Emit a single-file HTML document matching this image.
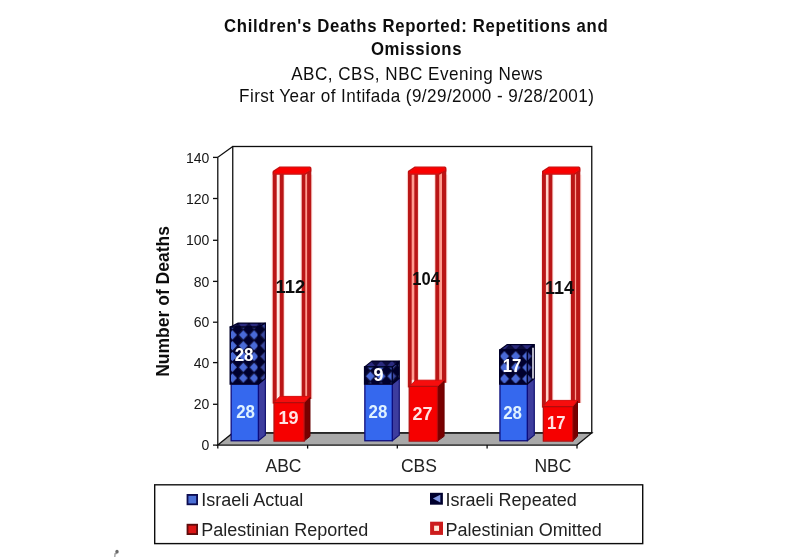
<!DOCTYPE html>
<html><head><meta charset="utf-8"><title>Children's Deaths Reported</title>
<style>
html,body{margin:0;padding:0;background:#fff;}
body{width:800px;height:557px;overflow:hidden;}
svg{display:block;}
text{font-family:"Liberation Sans",sans-serif;}
</style></head><body>
<svg width="800" height="557" viewBox="0 0 800 557">
<defs>
<pattern id="chk0" x="237.9" y="329.5" width="10.8" height="10.8" patternUnits="userSpaceOnUse">
<rect width="10.8" height="10.8" fill="#06062e"/>
<polygon points="5.4,0.7 9.80,5.4 5.4,10.10 1,5.4" fill="#4a6ad8"/>
</pattern>
<pattern id="chkS0" x="237.9" y="329.5" width="10.8" height="10.8" patternUnits="userSpaceOnUse">
<rect width="10.8" height="10.8" fill="#05052a"/>
<polygon points="5.4,0.7 9.80,5.4 5.4,10.10 1,5.4" fill="#3a48a0"/>
</pattern>
<pattern id="chkT0" x="237.9" y="329.5" width="10.8" height="10.8" patternUnits="userSpaceOnUse">
<rect width="10.8" height="10.8" fill="#07073a"/>
<polygon points="5.4,0.7 9.80,5.4 5.4,10.10 1,5.4" fill="#2c2c80"/>
</pattern>
<pattern id="chk1" x="364.9" y="370.8" width="10.8" height="10.8" patternUnits="userSpaceOnUse">
<rect width="10.8" height="10.8" fill="#06062e"/>
<polygon points="5.4,0.7 9.80,5.4 5.4,10.10 1,5.4" fill="#4a6ad8"/>
</pattern>
<pattern id="chkS1" x="364.9" y="370.8" width="10.8" height="10.8" patternUnits="userSpaceOnUse">
<rect width="10.8" height="10.8" fill="#05052a"/>
<polygon points="5.4,0.7 9.80,5.4 5.4,10.10 1,5.4" fill="#3a48a0"/>
</pattern>
<pattern id="chkT1" x="364.9" y="370.8" width="10.8" height="10.8" patternUnits="userSpaceOnUse">
<rect width="10.8" height="10.8" fill="#07073a"/>
<polygon points="5.4,0.7 9.80,5.4 5.4,10.10 1,5.4" fill="#2c2c80"/>
</pattern>
<pattern id="chk2" x="498.75" y="350.55" width="11.3" height="11.3" patternUnits="userSpaceOnUse">
<rect width="11.3" height="11.3" fill="#06062e"/>
<polygon points="5.65,0.7 10.30,5.65 5.65,10.60 1,5.65" fill="#4a6ad8"/>
</pattern>
<pattern id="chkS2" x="498.75" y="350.55" width="11.3" height="11.3" patternUnits="userSpaceOnUse">
<rect width="11.3" height="11.3" fill="#05052a"/>
<polygon points="5.65,0.7 10.30,5.65 5.65,10.60 1,5.65" fill="#3a48a0"/>
</pattern>
<pattern id="chkT2" x="498.75" y="350.55" width="11.3" height="11.3" patternUnits="userSpaceOnUse">
<rect width="11.3" height="11.3" fill="#07073a"/>
<polygon points="5.65,0.7 10.30,5.65 5.65,10.60 1,5.65" fill="#2c2c80"/>
</pattern>
<filter id="soft" x="-5%" y="-5%" width="110%" height="110%"><feGaussianBlur stdDeviation="0.45"/></filter>
</defs>
<rect width="800" height="557" fill="#ffffff"/>
<g filter="url(#soft)">

<g fill="#111" text-anchor="middle" font-size="18">
<text transform="translate(415.9,31.9) scale(0.93,1)" x="0" y="0" font-weight="bold" textLength="412.5" lengthAdjust="spacing">Children's Deaths Reported: Repetitions and</text>
<text transform="translate(416.25,55.2) scale(0.93,1)" x="0" y="0" font-weight="bold" textLength="97.4" lengthAdjust="spacing">Omissions</text>
<text transform="translate(416.9,80.0) scale(0.95,1)" x="0" y="0" textLength="264.8" lengthAdjust="spacing">ABC, CBS, NBC Evening News</text>
<text transform="translate(416.5,101.8) scale(0.95,1)" x="0" y="0" textLength="373.5" lengthAdjust="spacing">First Year of Intifada (9/29/2000 - 9/28/2001)</text>
</g>
<g stroke="#111" stroke-width="1.3" stroke-linejoin="miter">
<rect x="232.75" y="146.5" width="359" height="286.5" fill="#fff"/>
<polygon points="217.8,445.1 232.75,433 591.75,433 577,445.1" fill="#a9a9a9"/>
<polyline points="217.8,448.5 217.8,157.3 232.75,146.5" fill="none"/>
</g>
<g stroke="#111" stroke-width="1.3">
<line x1="213" y1="445.10" x2="217.8" y2="445.10"/>
<line x1="213" y1="404.30" x2="217.8" y2="404.30"/>
<line x1="213" y1="362.60" x2="217.8" y2="362.60"/>
<line x1="213" y1="322.20" x2="217.8" y2="322.20"/>
<line x1="213" y1="281.40" x2="217.8" y2="281.40"/>
<line x1="213" y1="240.30" x2="217.8" y2="240.30"/>
<line x1="213" y1="198.50" x2="217.8" y2="198.50"/>
<line x1="213" y1="157.40" x2="217.8" y2="157.40"/>
<line x1="307.6" y1="445.1" x2="307.6" y2="448.6"/>
<line x1="397.3" y1="445.1" x2="397.3" y2="448.6"/>
<line x1="487.1" y1="445.1" x2="487.1" y2="448.6"/>
<line x1="577" y1="445.1" x2="577" y2="448.6"/>
</g>
<g fill="#151515" font-size="14" text-anchor="end">
<text x="209.3" y="450.20">0</text>
<text x="209.3" y="409.40">20</text>
<text x="209.3" y="367.70">40</text>
<text x="209.3" y="327.30">60</text>
<text x="209.3" y="286.50">80</text>
<text x="209.3" y="245.40">100</text>
<text x="209.3" y="203.60">120</text>
<text x="209.3" y="162.50">140</text>
</g>
<text transform="translate(168.8,301.4) rotate(-90)" text-anchor="middle" font-size="18" textLength="150.8" lengthAdjust="spacingAndGlyphs" font-weight="bold" fill="#111">Number of Deaths</text>
<polygon points="258.4,440.75 265.4,435.15 265.4,378.4 258.4,384.0" fill="#3c3c9e" stroke="#141470" stroke-width="1.2" stroke-linejoin="round"/>
<rect x="231.15" y="384.0" width="27.24999999999997" height="56.75" fill="#3567ee" stroke="#0e0e7c" stroke-width="1.3"/>
<polygon points="258.4,384.0 265.4,378.4 265.4,323.1 258.4,327.1" fill="url(#chkS0)" stroke="#05052a" stroke-width="1.2" stroke-linejoin="round"/>
<polygon points="230.25,327.1 238.15,323.1 265.4,323.1 258.4,327.1" fill="url(#chkT0)" stroke="#05052a" stroke-width="1.2" stroke-linejoin="round"/>
<rect x="230.25" y="327.1" width="28.14999999999997" height="56.89999999999998" fill="url(#chk0)" stroke="#05052a" stroke-width="1.5"/>
<rect x="278.60" y="174.7" width="6.20" height="223.30" fill="#ffdcd6" opacity="0.8"/>
<rect x="306.00" y="174.7" width="6.40" height="224.30" fill="#ffdcd6" opacity="0.8"/>
<rect x="271.60" y="174.7" width="6.20" height="228.90" fill="#ffdcd6" opacity="0.8"/>
<rect x="300.60" y="174.7" width="5.80" height="228.90" fill="#ffdcd6" opacity="0.8"/>
<rect x="276.2" y="173.7" width="4.0" height="222.3" fill="#ffe8e2"/>
<rect x="304.8" y="173.7" width="2.8000000000000114" height="225.3" fill="#ff9c8e"/>
<rect x="279.7" y="167.4" width="4.00" height="230.60" fill="#ba1818"/>
<rect x="307.1" y="168.4" width="4.20" height="230.60" fill="#ba1818"/>
<rect x="272.7" y="172.0" width="4.00" height="231.60" fill="#ba1818"/>
<rect x="301.7" y="172.0" width="3.60" height="231.60" fill="#ba1818"/>
<polygon points="272.7,171.0 279.5,166.4 310.1,166.4 311.3,167.6 311.3,171.4 305.3,174.7 272.7,174.7" fill="#c41010"/>
<polygon points="274.3,171.8 280.09999999999997,167.5 309.7,167.5 309.7,170.4 304.3,173.6 274.3,173.6" fill="#fa0606"/>
<polygon points="304.09999999999997,441.09999999999997 310.0,436.29999999999995 310.0,397.00000000000006 304.09999999999997,402.6" fill="#780606" stroke="#6a0505" stroke-width="1" stroke-linejoin="round"/>
<polygon points="274.0,402.6 279.90000000000003,396.40000000000003 310.0,396.40000000000003 304.09999999999997,402.6" fill="#f60808" stroke="#d80c0c" stroke-width="1" stroke-linejoin="round"/>
<rect x="274.0" y="402.6" width="30.099999999999966" height="38.49999999999994" fill="#f60404" stroke="#b00a0a" stroke-width="1.2"/>
<text x="245.6" y="417.5" text-anchor="middle" font-weight="bold" font-size="18" fill="#dff2ff" textLength="18.8" lengthAdjust="spacingAndGlyphs">28</text>
<text x="244.1" y="361.3" text-anchor="middle" font-weight="bold" font-size="18" fill="#ffffff" textLength="18.8" lengthAdjust="spacingAndGlyphs">28</text>
<text x="288.5" y="423.9" text-anchor="middle" font-weight="bold" font-size="18" fill="#ffe2e2" >19</text>
<text x="290.5" y="292.5" text-anchor="middle" font-weight="bold" font-size="18" fill="#111" textLength="29.8" lengthAdjust="spacingAndGlyphs">112</text>
<polygon points="392.29999999999995,440.75 399.29999999999995,435.15 399.29999999999995,378.4 392.29999999999995,384.0" fill="#3c3c9e" stroke="#141470" stroke-width="1.2" stroke-linejoin="round"/>
<rect x="364.84999999999997" y="384.0" width="27.44999999999999" height="56.75" fill="#3567ee" stroke="#0e0e7c" stroke-width="1.3"/>
<polygon points="392.29999999999995,384.0 399.29999999999995,378.4 399.29999999999995,361.09999999999997 392.29999999999995,366.9" fill="url(#chkS1)" stroke="#05052a" stroke-width="1.2" stroke-linejoin="round"/>
<polygon points="364.65,366.9 371.84999999999997,361.09999999999997 399.29999999999995,361.09999999999997 392.29999999999995,366.9" fill="url(#chkT1)" stroke="#05052a" stroke-width="1.2" stroke-linejoin="round"/>
<rect x="364.65" y="366.9" width="27.649999999999988" height="17.100000000000023" fill="url(#chk1)" stroke="#05052a" stroke-width="1.5"/>
<rect x="413.20" y="174.7" width="5.80" height="207.10" fill="#ffdcd6" opacity="0.8"/>
<rect x="440.90" y="174.7" width="6.50" height="208.10" fill="#ffdcd6" opacity="0.8"/>
<rect x="406.80" y="174.7" width="6.00" height="212.70" fill="#ffdcd6" opacity="0.8"/>
<rect x="434.20" y="174.7" width="6.10" height="212.70" fill="#ffdcd6" opacity="0.8"/>
<rect x="411.2" y="173.7" width="3.6000000000000227" height="206.09999999999997" fill="#ff9c90"/>
<rect x="438.7" y="173.7" width="3.8000000000000114" height="209.09999999999997" fill="#ff9c8e"/>
<rect x="414.3" y="167.4" width="3.60" height="214.40" fill="#ba1818"/>
<rect x="442.0" y="168.4" width="4.30" height="214.40" fill="#ba1818"/>
<rect x="407.9" y="172.0" width="3.80" height="215.40" fill="#ba1818"/>
<rect x="435.3" y="172.0" width="3.90" height="215.40" fill="#ba1818"/>
<polygon points="407.9,171.0 414.7,166.4 445.1,166.4 446.3,167.6 446.3,171.4 439.2,174.7 407.9,174.7" fill="#c41010"/>
<polygon points="409.5,171.8 415.29999999999995,167.5 444.7,167.5 444.7,170.4 438.2,173.6 409.5,173.6" fill="#fa0606"/>
<polygon points="437.5,441.09999999999997 444.1,436.29999999999995 444.1,380.8 437.5,386.4" fill="#780606" stroke="#6a0505" stroke-width="1" stroke-linejoin="round"/>
<polygon points="409.2,386.4 415.8,380.2 444.1,380.2 437.5,386.4" fill="#f60808" stroke="#d80c0c" stroke-width="1" stroke-linejoin="round"/>
<rect x="409.2" y="386.4" width="28.30000000000001" height="54.69999999999999" fill="#f60404" stroke="#b00a0a" stroke-width="1.2"/>
<text x="378.0" y="418.4" text-anchor="middle" font-weight="bold" font-size="18" fill="#dff2ff" textLength="18.8" lengthAdjust="spacingAndGlyphs">28</text>
<text x="378.5" y="380.6" text-anchor="middle" font-weight="bold" font-size="18" fill="#ffffff" >9</text>
<text x="422.4" y="419.9" text-anchor="middle" font-weight="bold" font-size="18" fill="#ffe2e2" >27</text>
<text x="426.1" y="284.6" text-anchor="middle" font-weight="bold" font-size="18" fill="#111" textLength="27.6" lengthAdjust="spacingAndGlyphs">104</text>
<polygon points="527.3,440.75 534.3,435.15 534.3,378.4 527.3,384.0" fill="#3c3c9e" stroke="#141470" stroke-width="1.2" stroke-linejoin="round"/>
<rect x="499.95" y="384.0" width="27.349999999999966" height="56.75" fill="#3567ee" stroke="#0e0e7c" stroke-width="1.3"/>
<polygon points="527.3,384.0 534.3,378.4 534.3,344.7 527.3,350.0" fill="url(#chkS2)" stroke="#05052a" stroke-width="1.2" stroke-linejoin="round"/>
<polygon points="499.75,350.0 506.95,344.7 534.3,344.7 527.3,350.0" fill="url(#chkT2)" stroke="#05052a" stroke-width="1.2" stroke-linejoin="round"/>
<rect x="499.75" y="350.0" width="27.549999999999965" height="34.0" fill="url(#chk2)" stroke="#05052a" stroke-width="1.5"/>
<rect x="547.40" y="174.7" width="6.10" height="227.30" fill="#ffdcd6" opacity="0.8"/>
<rect x="575.00" y="174.7" width="6.40" height="228.30" fill="#ffdcd6" opacity="0.8"/>
<rect x="540.90" y="174.7" width="6.10" height="232.90" fill="#ffdcd6" opacity="0.8"/>
<rect x="569.80" y="174.7" width="6.20" height="232.90" fill="#ffdcd6" opacity="0.8"/>
<rect x="545.4" y="173.7" width="3.6000000000000227" height="226.3" fill="#ffd2c8"/>
<rect x="574.4" y="173.7" width="2.2000000000000455" height="229.3" fill="#ff9c8e"/>
<rect x="548.5" y="167.4" width="3.90" height="234.60" fill="#ba1818"/>
<rect x="576.1" y="168.4" width="4.20" height="234.60" fill="#ba1818"/>
<rect x="542.0" y="172.0" width="3.90" height="235.60" fill="#ba1818"/>
<rect x="570.9" y="172.0" width="4.00" height="235.60" fill="#ba1818"/>
<polygon points="542.0,171.0 548.8,166.4 579.0999999999999,166.4 580.3,167.6 580.3,171.4 574.9,174.7 542.0,174.7" fill="#c41010"/>
<polygon points="543.6,171.8 549.4,167.5 578.6999999999999,167.5 578.6999999999999,170.4 573.9,173.6 543.6,173.6" fill="#fa0606"/>
<polygon points="572.7,441.09999999999997 577.5,436.29999999999995 577.5,401.00000000000006 572.7,406.6" fill="#780606" stroke="#6a0505" stroke-width="1" stroke-linejoin="round"/>
<polygon points="543.3,406.6 548.0999999999999,400.40000000000003 577.5,400.40000000000003 572.7,406.6" fill="#f60808" stroke="#d80c0c" stroke-width="1" stroke-linejoin="round"/>
<rect x="543.3" y="406.6" width="29.40000000000009" height="34.49999999999994" fill="#f60404" stroke="#b00a0a" stroke-width="1.2"/>
<text x="512.6" y="418.7" text-anchor="middle" font-weight="bold" font-size="18" fill="#dff2ff" textLength="18.8" lengthAdjust="spacingAndGlyphs">28</text>
<text x="512.1" y="372.0" text-anchor="middle" font-weight="bold" font-size="18" fill="#ffffff" textLength="18.6" lengthAdjust="spacingAndGlyphs">17</text>
<text x="556.2" y="429.4" text-anchor="middle" font-weight="bold" font-size="18" fill="#ffe2e2" textLength="18.6" lengthAdjust="spacingAndGlyphs">17</text>
<text x="559.4" y="294.2" text-anchor="middle" font-weight="bold" font-size="18" fill="#111" >114</text>
<line x1="533" y1="347.8" x2="533" y2="378.6" stroke="#f4f4ff" stroke-width="1.5"/>
<g fill="#222" font-size="17.5" text-anchor="middle">
<text x="283.5" y="472">ABC</text><text x="418.9" y="472">CBS</text><text x="552.9" y="472">NBC</text>
</g>
<rect x="154.7" y="484.8" width="488" height="58.8" fill="#fff" stroke="#111" stroke-width="1.4"/>
<rect x="187.5" y="494.9" width="9.6" height="9.4" fill="#4c70d6" stroke="#0c0c50" stroke-width="1.8"/>
<rect x="187.5" y="524.7" width="9.6" height="9.4" fill="#dc1616" stroke="#5c0a0a" stroke-width="1.8"/>
<rect x="430" y="492.8" width="12.9" height="11.9" fill="#06062e"/>
<polygon points="432.9,498.6 440.3,494.8 440.3,502.6" fill="#8096e4"/>
<rect x="432.1" y="523.7" width="8.9" height="9.2" fill="#ffe6d6" stroke="#cc1c1c" stroke-width="4"/>
<g fill="#222" font-size="18">
<text x="201.2" y="506">Israeli Actual</text>
<text x="201.2" y="535.8">Palestinian Reported</text>
<text x="445.6" y="506">Israeli Repeated</text>
<text x="445.6" y="535.8">Palestinian Omitted</text>
</g>
<ellipse cx="117" cy="551.7" rx="1.7" ry="1.9" fill="#505050" opacity="0.85"/>
<path d="M116.4 553.5 L115 553.7 L114.8 557" fill="none" stroke="#8a8a8a" stroke-width="1.4" stroke-linecap="round" stroke-linejoin="round" opacity="0.8"/>

</g>
</svg>
</body></html>
